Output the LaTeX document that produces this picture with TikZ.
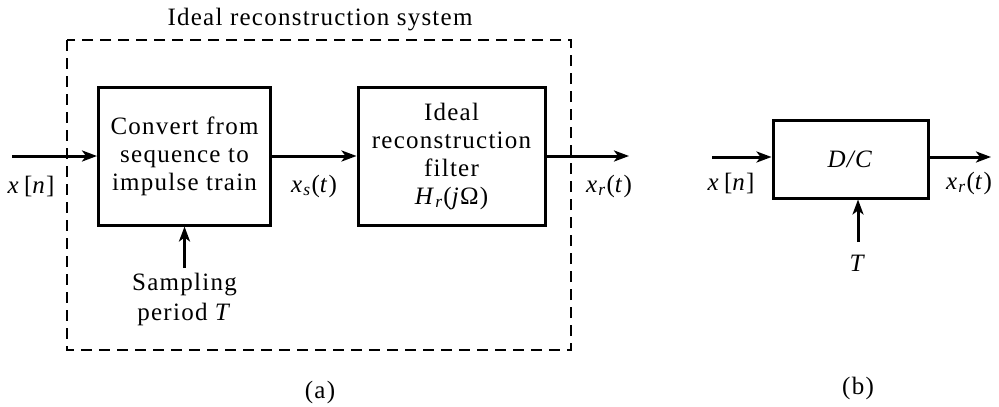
\documentclass[tikz,border=0pt]{standalone}
\usepackage{fontspec}
\setmainfont{Liberation Serif}[LetterSpace=5]
\usetikzlibrary{arrows.meta}
\begin{document}
\begin{tikzpicture}[x=1pt,y=-1pt,
  blk/.style={draw,line width=3pt,inner sep=0pt,align=center,font=\fontsize{25}{28}\selectfont},
  lbl/.style={inner sep=0pt,font=\fontsize{25}{30}\selectfont,align=center},
  sig/.style={line width=3pt,-{Stealth[length=15pt,width=11pt,inset=4pt]}},
  frame/.style={draw,line width=1.5pt,dash pattern=on 11pt off 7pt}]
\useasboundingbox (0,0) rectangle (999,407);
% (a)
\node[lbl] (title) at (320,20) {Ideal reconstruction system};
\draw[frame] (67,40) rectangle (571,350);
\node[blk,minimum width=172pt,minimum height=138pt] (conv) at (184.5,156) {Convert from\\sequence to\\impulse train};
\node[blk,minimum width=187pt,minimum height=138pt] (filt) at (451.5,156) {Ideal\\reconstruction\\filter\\\textit{H}\textsubscript{\textit{r}}(\textit{j}Ω)};
\coordinate (ain) at (12,156);
\coordinate (aout) at (629,156);
\coordinate (samp) at (184.5,268);
\draw[sig] (ain) -- (conv.west);
\draw[sig] (conv.east) -- (filt.west);
\draw[sig] (filt.east) -- (aout);
\draw[sig] (samp) -- (conv.south);
\node[lbl] (xn) at (31,186) {\textit{x}\,[\textit{n}]};
\node[lbl] (xs) at (314,186) {\textit{x}\textsubscript{\textit{s}}(\textit{t})};
\node[lbl] (xr) at (609,186) {\textit{x}\textsubscript{\textit{r}}(\textit{t})};
\node[lbl] (sp) at (184.5,299) {Sampling\\period \textit{T}};
\node[lbl] (la) at (320,392) {(a)};
% (b)
\node[blk,minimum width=155pt,minimum height=78pt] (dc) at (850.5,159) {\textit{D/C}};
\coordinate (bin) at (712,157);
\coordinate (bout) at (991,157);
\coordinate (bt) at (858,242);
\draw[sig] (bin) -- (bin -| dc.west);
\draw[sig] (bout -| dc.east) -- (bout);
\draw[sig] (bt) -- (bt |- dc.south);
\node[lbl] (bxn) at (731,183) {\textit{x}\,[\textit{n}]};
\node[lbl] (bxr) at (969,183) {\textit{x}\textsubscript{\textit{r}}(\textit{t})};
\node[lbl] (bT) at (858,263) {\textit{T}};
\node[lbl] (lb) at (858,388) {(b)};
\end{tikzpicture}
\end{document}
